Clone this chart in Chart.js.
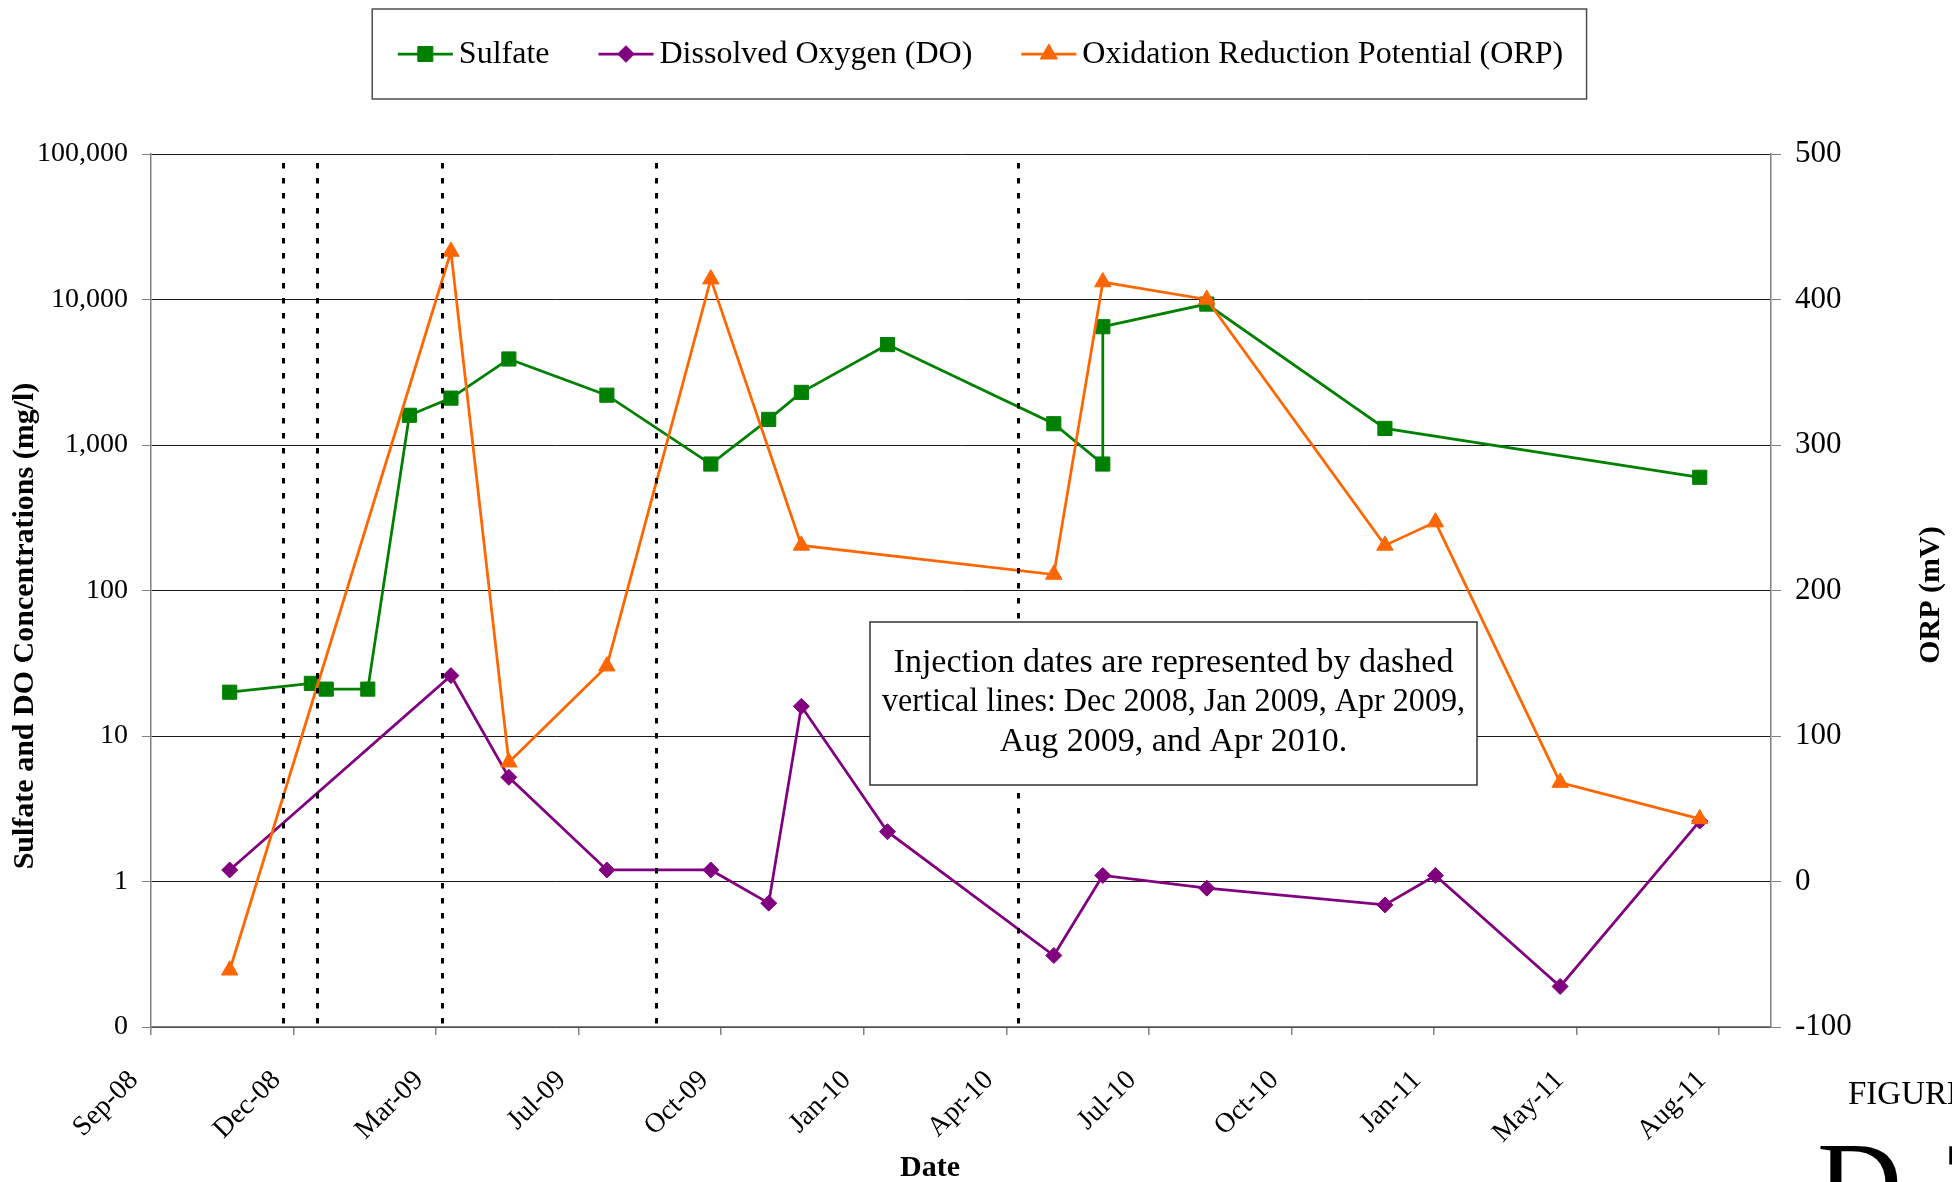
<!DOCTYPE html>
<html>
<head>
<meta charset="utf-8">
<script src="https://cdn.jsdelivr.net/npm/chart.js@4.4.1/dist/chart.umd.min.js"></script>
<style>
  html, body { margin: 0; padding: 0; background: #ffffff; }
  canvas { display: block; }
</style>
</head>
<body>
<canvas id="chart" width="1952" height="1182"></canvas>
<script>
// ---- data ----------------------------------------------------------------
const xRange = ['2008-09-18', '2011-09-14'];
const xTickDates = ['2008-09-18', '2008-12-23', '2009-03-29', '2009-07-03', '2009-10-07', '2010-01-11',
                    '2010-04-17', '2010-07-22', '2010-10-26', '2011-01-30', '2011-05-06', '2011-08-10'];
const xTickLabels = ['Sep-08', 'Dec-08', 'Mar-09', 'Jul-09', 'Oct-09', 'Jan-10',
                     'Apr-10', 'Jul-10', 'Oct-10', 'Jan-11', 'May-11', 'Aug-11'];

const concTicks = [0.1, 1, 10, 100, 1000, 10000, 100000];
const concTickLabels = ['0', '1', '10', '100', '1,000', '10,000', '100,000'];
const orpTicks = [-100, 0, 100, 200, 300, 400, 500];
const orpTickLabels = ['-100', '0', '100', '200', '300', '400', '500'];

const sulfateDates = ['2008-11-10', '2009-01-04', '2009-01-14', '2009-02-11', '2009-03-11', '2009-04-08',
                      '2009-05-17', '2009-07-22', '2009-09-30', '2009-11-08', '2009-11-30', '2010-01-27',
                      '2010-05-19', '2010-06-21', '2010-06-21', '2010-08-30', '2010-12-28', '2011-07-28'];
const sulfateValues = [20, 23, 21, 21, 1600, 2100, 3900, 2200, 740, 1500, 2300, 4900,
                       1400, 740, 6500, 9300, 1300, 600];

const doDates = ['2008-11-10', '2009-04-08', '2009-05-17', '2009-07-22', '2009-09-30', '2009-11-08',
                 '2009-11-30', '2010-01-27', '2010-05-19', '2010-06-21', '2010-08-30', '2010-12-28',
                 '2011-01-31', '2011-04-25', '2011-07-28'];
const doValues = [1.2, 26, 5.2, 1.2, 1.2, 0.71, 16, 2.2, 0.31, 1.1, 0.9, 0.69, 1.1, 0.19, 2.6];

const orpDates = ['2008-11-10', '2009-04-08', '2009-05-17', '2009-07-22', '2009-09-30', '2009-11-30',
                  '2010-05-19', '2010-06-21', '2010-08-30', '2010-12-28', '2011-01-31', '2011-04-25',
                  '2011-07-28'];
const orpValues = [-61, 433, 82, 148, 414, 231, 211, 412, 400, 231, 247, 68, 43];

const injectionDates = ['2008-12-16', '2009-01-08', '2009-04-02', '2009-08-24', '2010-04-25'];

const noteLines = ['Injection dates are represented by dashed',
                   'vertical lines: Dec 2008, Jan 2009, Apr 2009,',
                   'Aug 2009, and Apr 2010.'];

// ---- helpers -------------------------------------------------------------
const SERIF = '"Liberation Serif", "Times New Roman", serif';
const toDay = s => { const [y, m, d] = s.split('-').map(Number); return Date.UTC(y, m - 1, d) / 864e5; };
const pts = (dates, values) => dates.map((d, i) => ({ x: toDay(d), y: values[i] }));

function markerPath(ctx, style, x, y, r) {
  ctx.beginPath();
  if (style === 'rect') {
    const s = r * Math.SQRT1_2;
    ctx.rect(x - s, y - s, 2 * s, 2 * s);
  } else if (style === 'rectRot') {
    ctx.moveTo(x, y - r); ctx.lineTo(x + r, y); ctx.lineTo(x, y + r); ctx.lineTo(x - r, y); ctx.closePath();
  } else {
    for (let k = 0; k < 3; k++) {
      const a = k * 2 * Math.PI / 3;
      const px = x + Math.sin(a) * r, py = y - Math.cos(a) * r;
      if (k === 0) ctx.moveTo(px, py); else ctx.lineTo(px, py);
    }
    ctx.closePath();
  }
}

// dashed injection lines and the note box over the plot
const injectionPlugin = {
  id: 'injections',
  afterDatasetsDraw(chart) {
    const { ctx, chartArea, scales } = chart;
    ctx.save();
    ctx.strokeStyle = '#000';
    ctx.lineWidth = 3;
    ctx.setLineDash([5.5, 9.5]);
    injectionDates.forEach(d => {
      const x = Math.round(scales.x.getPixelForValue(toDay(d))) + 0.5;
      ctx.beginPath();
      ctx.moveTo(x, chartArea.top + 9);
      ctx.lineTo(x, chartArea.bottom);
      ctx.stroke();
    });
    ctx.setLineDash([]);

    // note box
    const bx = 870, by = 622, bw = 607, bh = 163;
    ctx.fillStyle = '#fff';
    ctx.fillRect(bx, by, bw, bh);
    ctx.strokeStyle = '#333';
    ctx.lineWidth = 1.5;
    ctx.strokeRect(bx, by, bw, bh);
    ctx.fillStyle = '#000';
    ctx.font = '34px ' + SERIF;
    ctx.textAlign = 'center';
    ctx.textBaseline = 'middle';
    noteLines.forEach((t, i) => ctx.fillText(t, bx + bw / 2, 663 + i * 39.5, 583));
    ctx.restore();
  }
};

// legend, axis titles and page caption
const framePlugin = {
  id: 'frame',
  afterDraw(chart) {
    const { ctx } = chart;
    ctx.save();

    // legend
    ctx.font = '32px ' + SERIF;
    ctx.textBaseline = 'middle';
    ctx.textAlign = 'left';
    const lineLen = 55, gapText = 6, gapItem = 49, ly = 54;
    const sets = chart.data.datasets;
    const widths = sets.map(ds => lineLen + gapText + ctx.measureText(ds.label).width);
    const total = widths.reduce((a, b) => a + b, 0) + gapItem * (sets.length - 1);
    let x = 980.5 - total / 2;
    ctx.strokeStyle = '#4d4d4d';
    ctx.lineWidth = 1.5;
    ctx.strokeRect(x - 25.6, 9, total + 25.6 + 23.4, 90);
    sets.forEach((ds, i) => {
      ctx.strokeStyle = ds.borderColor;
      ctx.lineWidth = 2.75;
      ctx.beginPath(); ctx.moveTo(x, ly); ctx.lineTo(x + lineLen, ly); ctx.stroke();
      markerPath(ctx, ds.pointStyle, x + lineLen / 2, ly, ds.legendMarker);
      ctx.fillStyle = ds.borderColor; ctx.fill();
      ctx.lineWidth = 1; ctx.stroke();
      ctx.fillStyle = '#000';
      ctx.fillText(ds.label, x + lineLen + gapText, ly + 1);
      x += widths[i] + gapItem;
    });

    // axis titles
    ctx.fillStyle = '#000';
    ctx.textAlign = 'center';
    ctx.font = 'bold 30px ' + SERIF;
    ctx.save(); ctx.translate(25, 626); ctx.rotate(-Math.PI / 2);
    ctx.fillText('Sulfate and DO Concentrations (mg/l)', 0, 0); ctx.restore();
    ctx.save(); ctx.translate(1931, 595); ctx.rotate(-Math.PI / 2);
    ctx.fillText('ORP (mV)', 0, 0); ctx.restore();
    ctx.fillText('Date', 930, 1168);

    // page caption
    ctx.textAlign = 'left';
    ctx.textBaseline = 'alphabetic';
    ctx.font = '33px ' + SERIF;
    ctx.fillText('FIGURE', 1848, 1104);
    ctx.font = '118px ' + SERIF;
    ctx.fillText('D-7', 1817, 1224);
    ctx.restore();
  }
};

const tickFont = size => ({ family: SERIF, size });

new Chart(document.getElementById('chart'), {
  type: 'line',
  data: {
    datasets: [
      { label: 'Sulfate', data: pts(sulfateDates, sulfateValues), yAxisID: 'y',
        borderColor: '#008000', backgroundColor: '#008000', pointStyle: 'rect',
        pointRadius: 10, pointBorderWidth: 1, borderWidth: 2.75, order: 3, legendMarker: 10.6 },
      { label: 'Dissolved Oxygen (DO)', data: pts(doDates, doValues), yAxisID: 'y',
        borderColor: '#800080', backgroundColor: '#800080', pointStyle: 'rectRot',
        pointRadius: 8, pointBorderWidth: 1, borderWidth: 2.75, order: 2, legendMarker: 8.3 },
      { label: 'Oxidation Reduction Potential (ORP)', data: pts(orpDates, orpValues), yAxisID: 'y2',
        borderColor: '#FF6600', backgroundColor: '#FF6600', pointStyle: 'triangle',
        pointRadius: 9.5, pointBorderWidth: 1, borderWidth: 2.75, order: 1, legendMarker: 10 }
    ]
  },
  options: {
    responsive: false,
    animation: false,
    devicePixelRatio: 1,
    layout: { padding: { top: 154, left: 0, right: 0, bottom: 0 } },
    elements: { line: { tension: 0, fill: false } },
    plugins: { legend: { display: false }, tooltip: { enabled: false } },
    scales: {
      x: {
        type: 'linear',
        min: toDay(xRange[0]), max: toDay(xRange[1]),
        afterBuildTicks: s => { s.ticks = xTickDates.map(d => ({ value: toDay(d) })); },
        afterFit: s => { s.height = 155; },
        ticks: { autoSkip: false, minRotation: 45, maxRotation: 45, padding: 29, labelOffset: -17,
                 color: '#000', font: tickFont(28), callback: (v, i) => xTickLabels[i] },
        grid: { drawOnChartArea: false, tickLength: 8, color: '#808080', lineWidth: 1.5 },
        border: { color: '#808080', width: 1.5 }
      },
      y: {
        type: 'logarithmic', position: 'left',
        min: 0.1, max: 100000,
        afterBuildTicks: s => { s.ticks = concTicks.map(v => ({ value: v })); },
        afterFit: s => { s.width = 151; },
        ticks: { padding: 14, color: '#000', font: tickFont(28), callback: (v, i) => concTickLabels[i] },
        grid: { color: '#1a1a1a', lineWidth: 1, tickLength: 9, tickColor: '#808080' },
        border: { color: '#808080', width: 1.5 }
      },
      y2: {
        type: 'linear', position: 'right',
        min: -100, max: 500,
        afterBuildTicks: s => { s.ticks = orpTicks.map(v => ({ value: v })); },
        afterFit: s => { s.width = 181; },
        ticks: { padding: 14, color: '#000', font: tickFont(31), callback: (v, i) => orpTickLabels[i] },
        grid: { drawOnChartArea: false, tickLength: 10, color: '#808080' },
        border: { color: '#808080', width: 1.5 }
      }
    }
  },
  plugins: [injectionPlugin, framePlugin]
});
</script>
</body>
</html>
